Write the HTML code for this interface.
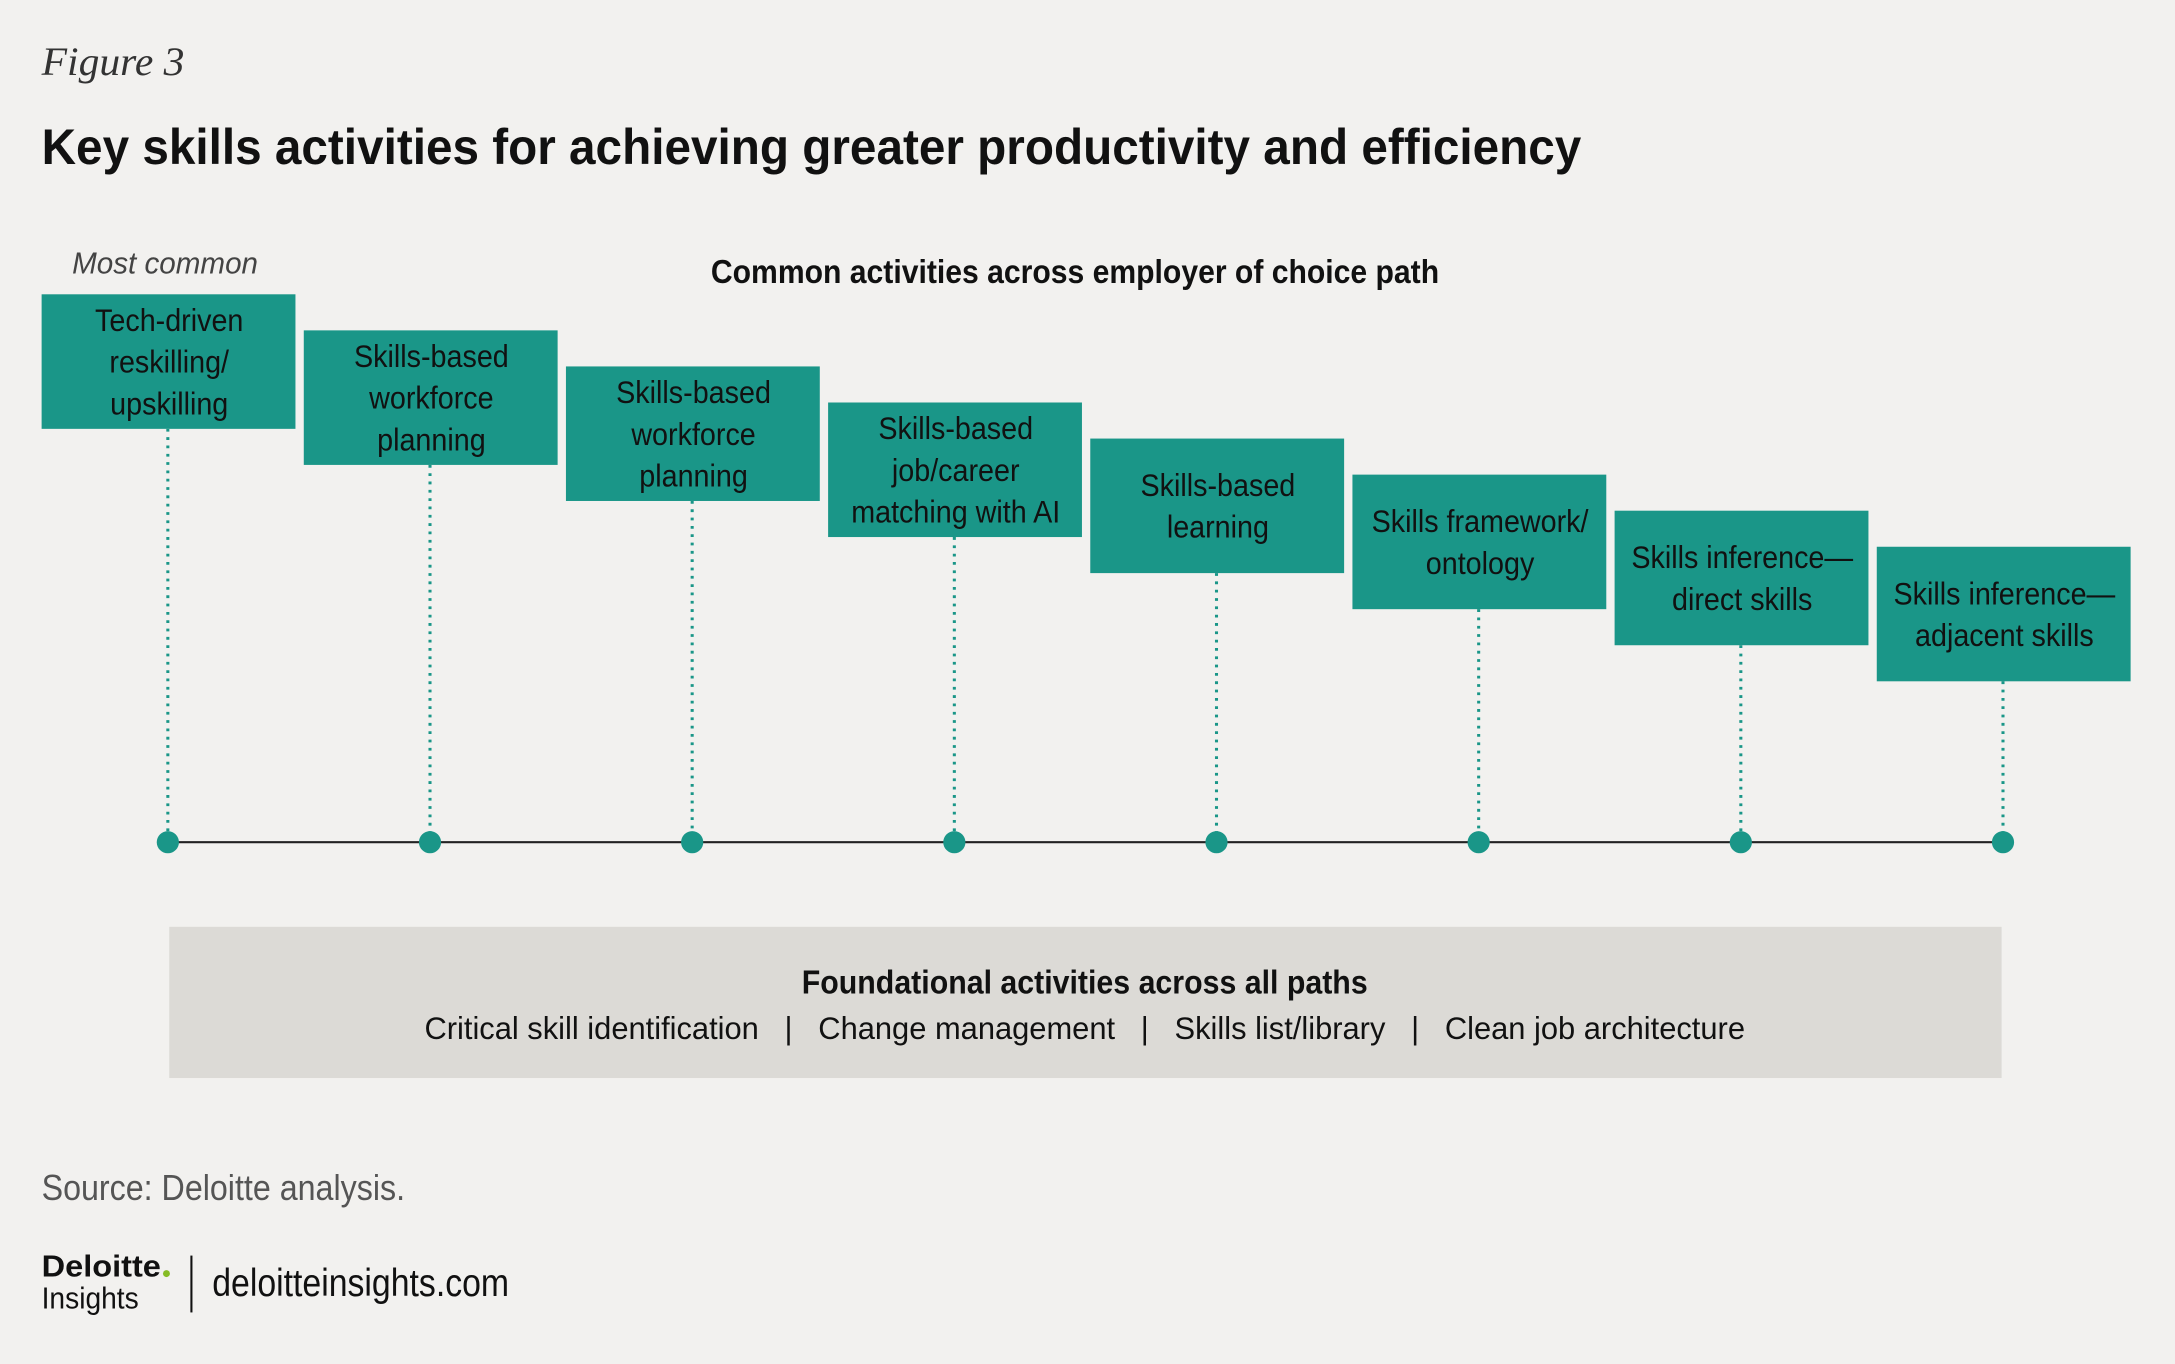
<!DOCTYPE html>
<html><head><meta charset="utf-8">
<style>
html,body{margin:0;padding:0;background:#f2f1ef;}
svg{display:block;}
text{font-family:"Liberation Sans Narrow","Liberation Sans",sans-serif;}
</style></head>
<body>
<svg id="chart" width="2175" height="1364" viewBox="0 0 1568 983" xmlns="http://www.w3.org/2000/svg">
<rect x="0" y="0" width="1568" height="983" fill="#f2f1ef"/>
<text x="30" y="54" font-style="italic" font-size="29" fill="#333" style="font-family:'Liberation Serif',serif" textLength="103" lengthAdjust="spacingAndGlyphs">Figure 3</text>
<text x="30" y="118" font-size="36" font-weight="bold" fill="#111" textLength="1110" lengthAdjust="spacingAndGlyphs">Key skills activities for achieving greater productivity and efficiency</text>
<text x="52" y="197" font-size="22" font-style="italic" fill="#444" textLength="134" lengthAdjust="spacingAndGlyphs">Most common</text>
<text x="775" y="204" text-anchor="middle" font-size="24" font-weight="bold" fill="#111" textLength="525" lengthAdjust="spacingAndGlyphs">Common activities across employer of choice path</text>
<g id="marks"></g>
<rect x="122" y="668" width="1321" height="109" fill="#dcdad6"/>
<text x="782" y="716" text-anchor="middle" font-size="24" font-weight="bold" fill="#111" textLength="408" lengthAdjust="spacingAndGlyphs">Foundational activities across all paths</text>
<text x="782" y="749" text-anchor="middle" font-size="23" fill="#111" textLength="952" lengthAdjust="spacingAndGlyphs" xml:space="preserve">Critical skill identification   |   Change management   |   Skills list/library   |   Clean job architecture</text>
<text x="30" y="865" font-size="26" fill="#555" textLength="262" lengthAdjust="spacingAndGlyphs">Source: Deloitte analysis.</text>
<text x="30" y="920" font-size="22" font-weight="bold" fill="#111" textLength="86" lengthAdjust="spacingAndGlyphs">Deloitte</text>
<circle cx="120" cy="918" r="2.5" fill="#86bc25"/>
<text x="30" y="943" font-size="22" fill="#111" textLength="70" lengthAdjust="spacingAndGlyphs">Insights</text>
<line x1="138" y1="905" x2="138" y2="946" stroke="#111" stroke-width="1.5"/>
<text x="153" y="934" font-size="28" fill="#111" textLength="214" lengthAdjust="spacingAndGlyphs">deloitteinsights.com</text>
</svg>
<script>
const labels = [
  ["Tech-driven","reskilling/","upskilling"],
  ["Skills-based","workforce","planning"],
  ["Skills-based","workforce","planning"],
  ["Skills-based","job/career","matching with AI"],
  ["Skills-based","learning"],
  ["Skills framework/","ontology"],
  ["Skills inference\u2014","direct skills"],
  ["Skills inference\u2014","adjacent skills"]
];
const ranks = [1,2,3,4,5,6,7,8];

const NS = "http://www.w3.org/2000/svg";
const g = document.getElementById("marks");
const xPos = r => 121 + (r-1)*189;
const yTop = r => 212 + (r-1)*26;
const BW = 183, BH = 97, LINE_Y = 607;
function el(tag, attrs){const e=document.createElementNS(NS,tag);for(const k in attrs)e.setAttribute(k,attrs[k]);g.appendChild(e);return e;}

const axis = el("line",{x1:xPos(ranks[0]),y1:LINE_Y,x2:xPos(ranks[ranks.length-1]),y2:LINE_Y,stroke:"#222","stroke-width":1.5});



ranks.forEach((r,i)=>{
  const cx = xPos(r), top = yTop(r);
  const conn = el("line",{x1:cx,y1:top+BH,x2:cx,y2:LINE_Y,stroke:"#1a9688","stroke-width":2.2,"stroke-dasharray":"2 4"});
  
  
  const box = el("rect",{x:cx-BW/2+0.5,y:top,width:BW,height:BH,fill:"#1a9688"});
  
  
  const lines = labels[i];
  const lh = 30;
  const startY = top + BH/2 - (lines.length-1)*lh/2 + 8;
  lines.forEach((t,j)=>{
    const tx = el("text",{x:cx+1,y:startY+j*lh,"text-anchor":"middle","font-size":23,fill:"#111",
      transform:"translate("+(cx+1)+",0) scale(0.9,1) translate("+(-(cx+1))+",0)"});
    tx.textContent = t;
    
    
  });
  const dot = el("circle",{cx:cx,cy:LINE_Y,r:8,fill:"#1a9688"});
  
  
});
</script>
</body></html>
